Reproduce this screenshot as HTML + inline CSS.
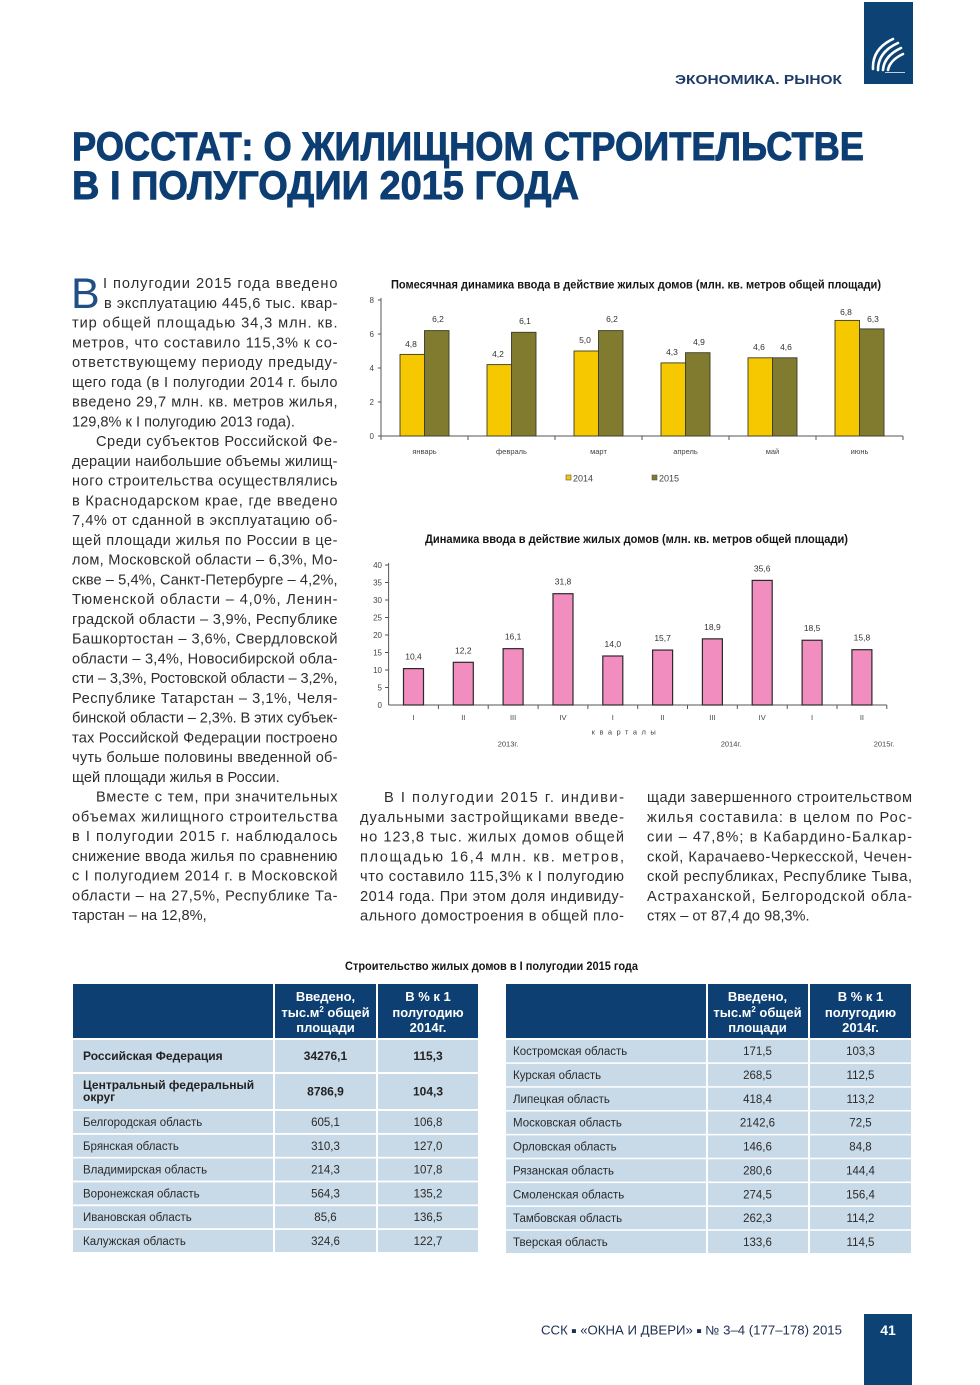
<!DOCTYPE html>
<html lang="ru">
<head>
<meta charset="utf-8">
<style>
  html,body{margin:0;padding:0;background:#fff;}
  svg{display:block;}
  .b{font-family:"Liberation Sans","DejaVu Sans",sans-serif;font-size:14.6px;fill:#2e2e2e;}
  .t{font-family:"Liberation Sans","DejaVu Sans",sans-serif;}
</style>
</head>
<body>
<svg width="980" height="1385" viewBox="0 0 980 1385" xmlns="http://www.w3.org/2000/svg">
  <rect x="0" y="0" width="980" height="1385" fill="#fff"/>

  <!-- top logo block -->
  <rect x="864" y="2" width="49" height="82" fill="#0d4275"/>
  <g fill="none" stroke="#fff" stroke-width="2.6" stroke-linecap="round">
    <path d="M873 69 Q872 49 893 39"/>
    <path d="M878 70 Q878 52 898 43"/>
    <path d="M883 70 Q884 56 901 48"/>
    <path d="M888 70 Q890 60 903 54"/>
  </g>
  <line x1="885" y1="72.5" x2="905" y2="72.5" stroke="#fff" stroke-width="0.8"/>

  <!-- section header -->
  <text class="t" x="675" y="84" font-size="12.5" font-weight="bold" fill="#1d3a66" textLength="167" lengthAdjust="spacingAndGlyphs">ЭКОНОМИКА. РЫНОК</text>

  <!-- main title -->
  <text class="t" x="72" y="160" font-size="40" font-weight="bold" fill="#0d3e73" stroke="#0d3e73" stroke-width="0.9" textLength="792" lengthAdjust="spacingAndGlyphs">РОССТАТ: О ЖИЛИЩНОМ СТРОИТЕЛЬСТВЕ</text>
  <text class="t" x="72" y="199" font-size="40" font-weight="bold" fill="#0d3e73" stroke="#0d3e73" stroke-width="0.9" textLength="507" lengthAdjust="spacingAndGlyphs">В I ПОЛУГОДИИ 2015 ГОДА</text>

  <!-- drop cap -->
  <text class="t" x="71" y="308" font-size="43" fill="#1f4f85">В</text>

  <!-- left column text -->
  <g class="b">
    <text x="103" y="288" textLength="234.5" lengthAdjust="spacing">I полугодии 2015 года введено</text>
    <text x="104" y="307.75" textLength="233.5" lengthAdjust="spacing">в эксплуатацию 445,6 тыс. квар-</text>
    <text x="72" y="327.5" textLength="265.5" lengthAdjust="spacing">тир общей площадью 34,3 млн. кв.</text>
    <text x="72" y="347.25" textLength="265.5" lengthAdjust="spacing">метров, что составило 115,3% к со-</text>
    <text x="72" y="367" textLength="265.5" lengthAdjust="spacing">ответствующему периоду предыду-</text>
    <text x="72" y="386.75" textLength="265.5" lengthAdjust="spacing">щего года (в I полугодии 2014 г. было</text>
    <text x="72" y="406.5" textLength="265.5" lengthAdjust="spacing">введено 29,7 млн. кв. метров жилья,</text>
    <text x="72" y="426.25">129,8% к I полугодию 2013 года).</text>
    <text x="96" y="446" textLength="241.5" lengthAdjust="spacing">Среди субъектов Российской Фе-</text>
    <text x="72" y="465.75" textLength="265.5" lengthAdjust="spacing">дерации наибольшие объемы жилищ-</text>
    <text x="72" y="485.5" textLength="265.5" lengthAdjust="spacing">ного строительства осуществлялись</text>
    <text x="72" y="505.25" textLength="265.5" lengthAdjust="spacing">в Краснодарском крае, где введено</text>
    <text x="72" y="525" textLength="265.5" lengthAdjust="spacing">7,4% от сданной в эксплуатацию об-</text>
    <text x="72" y="544.75" textLength="265.5" lengthAdjust="spacing">щей площади жилья по России в це-</text>
    <text x="72" y="564.5" textLength="265.5" lengthAdjust="spacing">лом, Московской области – 6,3%, Мо-</text>
    <text x="72" y="584.25" textLength="265.5" lengthAdjust="spacing">скве – 5,4%, Санкт-Петербурге – 4,2%,</text>
    <text x="72" y="604" textLength="265.5" lengthAdjust="spacing">Тюменской области – 4,0%, Ленин-</text>
    <text x="72" y="623.75" textLength="265.5" lengthAdjust="spacing">градской области – 3,9%, Республике</text>
    <text x="72" y="643.5" textLength="265.5" lengthAdjust="spacing">Башкортостан – 3,6%, Свердловской</text>
    <text x="72" y="663.25" textLength="265.5" lengthAdjust="spacing">области – 3,4%, Новосибирской обла-</text>
    <text x="72" y="683" textLength="265.5" lengthAdjust="spacing">сти – 3,3%, Ростовской области – 3,2%,</text>
    <text x="72" y="702.75" textLength="265.5" lengthAdjust="spacing">Республике Татарстан – 3,1%, Челя-</text>
    <text x="72" y="722.5" textLength="265.5" lengthAdjust="spacing">бинской области – 2,3%. В этих субъек-</text>
    <text x="72" y="742.25" textLength="265.5" lengthAdjust="spacing">тах Российской Федерации построено</text>
    <text x="72" y="762" textLength="265.5" lengthAdjust="spacing">чуть больше половины введенной об-</text>
    <text x="72" y="781.75">щей площади жилья в России.</text>
    <text x="96" y="801.5" textLength="241.5" lengthAdjust="spacing">Вместе с тем, при значительных</text>
    <text x="72" y="821.25" textLength="265.5" lengthAdjust="spacing">объемах жилищного строительства</text>
    <text x="72" y="841" textLength="265.5" lengthAdjust="spacing">в I полугодии 2015 г. наблюдалось</text>
    <text x="72" y="860.75" textLength="265.5" lengthAdjust="spacing">снижение ввода жилья по сравнению</text>
    <text x="72" y="880.5" textLength="265.5" lengthAdjust="spacing">с I полугодием 2014 г. в Московской</text>
    <text x="72" y="900.25" textLength="265.5" lengthAdjust="spacing">области – на 27,5%, Республике Та-</text>
    <text x="72" y="920">тарстан – на 12,8%,</text>
  </g>

  <!-- middle column text -->
  <g class="b">
    <text x="384" y="802" textLength="240" lengthAdjust="spacing">В I полугодии 2015 г. индиви-</text>
    <text x="360" y="821.75" textLength="264" lengthAdjust="spacing">дуальными застройщиками введе-</text>
    <text x="360" y="841.5" textLength="264" lengthAdjust="spacing">но 123,8 тыс. жилых домов общей</text>
    <text x="360" y="861.25" textLength="264" lengthAdjust="spacing">площадью 16,4 млн. кв. метров,</text>
    <text x="360" y="881" textLength="264" lengthAdjust="spacing">что составило 115,3% к I полугодию</text>
    <text x="360" y="900.75" textLength="264" lengthAdjust="spacing">2014 года. При этом доля индивиду-</text>
    <text x="360" y="920.5" textLength="264" lengthAdjust="spacing">ального домостроения в общей пло-</text>
  </g>

  <!-- right column text -->
  <g class="b">
    <text x="647" y="802" textLength="265" lengthAdjust="spacing">щади завершенного строительством</text>
    <text x="647" y="821.75" textLength="265" lengthAdjust="spacing">жилья составила: в целом по Рос-</text>
    <text x="647" y="841.5" textLength="265" lengthAdjust="spacing">сии – 47,8%; в Кабардино-Балкар-</text>
    <text x="647" y="861.25" textLength="265" lengthAdjust="spacing">ской, Карачаево-Черкесской, Чечен-</text>
    <text x="647" y="881" textLength="265" lengthAdjust="spacing">ской республиках, Республике Тыва,</text>
    <text x="647" y="900.75" textLength="265" lengthAdjust="spacing">Астраханской, Белгородской обла-</text>
    <text x="647" y="920.5">стях – от 87,4 до 98,3%.</text>
  </g>

  <!-- ============ CHART 1 ============ -->
  <text class="t" x="391" y="288.5" font-size="12" font-weight="bold" fill="#151515" textLength="490" lengthAdjust="spacingAndGlyphs">Помесячная динамика ввода в действие жилых домов (млн. кв. метров общей площади)</text>
  <g stroke="#555" stroke-width="1">
    <line x1="381" y1="298" x2="381" y2="436"/>
    <line x1="381" y1="436" x2="903" y2="436"/>
    <line x1="378" y1="300" x2="381" y2="300"/>
    <line x1="378" y1="334" x2="381" y2="334"/>
    <line x1="378" y1="368" x2="381" y2="368"/>
    <line x1="378" y1="402" x2="381" y2="402"/>
    <line x1="378" y1="436" x2="381" y2="436"/>
    <line x1="381" y1="436" x2="381" y2="440"/>
    <line x1="468" y1="436" x2="468" y2="440"/>
    <line x1="555" y1="436" x2="555" y2="440"/>
    <line x1="642" y1="436" x2="642" y2="440"/>
    <line x1="729" y1="436" x2="729" y2="440"/>
    <line x1="816" y1="436" x2="816" y2="440"/>
    <line x1="903" y1="436" x2="903" y2="440"/>
  </g>
  <g class="t" font-size="8" fill="#444" text-anchor="end">
    <text x="374" y="303">8</text>
    <text x="374" y="337">6</text>
    <text x="374" y="371">4</text>
    <text x="374" y="405">2</text>
    <text x="374" y="439">0</text>
  </g>
  <g stroke="#3a3a2a" stroke-width="0.9">
    <rect x="400" y="354.4" width="24.5" height="81.6" fill="#f6c800"/>
    <rect x="424.5" y="330.6" width="24.5" height="105.4" fill="#817b2f"/>
    <rect x="487" y="364.6" width="24.5" height="71.4" fill="#f6c800"/>
    <rect x="511.5" y="332.3" width="24.5" height="103.7" fill="#817b2f"/>
    <rect x="574" y="351" width="24.5" height="85" fill="#f6c800"/>
    <rect x="598.5" y="330.6" width="24.5" height="105.4" fill="#817b2f"/>
    <rect x="661" y="362.9" width="24.5" height="73.1" fill="#f6c800"/>
    <rect x="685.5" y="352.7" width="24.5" height="83.3" fill="#817b2f"/>
    <rect x="748" y="357.8" width="24.5" height="78.2" fill="#f6c800"/>
    <rect x="772.5" y="357.8" width="24.5" height="78.2" fill="#817b2f"/>
    <rect x="835" y="320.4" width="24.5" height="115.6" fill="#f6c800"/>
    <rect x="859.5" y="328.9" width="24.5" height="107.1" fill="#817b2f"/>
  </g>
  <g class="t" font-size="8.5" fill="#333" text-anchor="middle">
    <text x="411" y="347">4,8</text>
    <text x="438" y="322">6,2</text>
    <text x="498" y="357">4,2</text>
    <text x="525" y="324">6,1</text>
    <text x="585" y="343">5,0</text>
    <text x="612" y="322">6,2</text>
    <text x="672" y="355">4,3</text>
    <text x="699" y="345">4,9</text>
    <text x="759" y="350">4,6</text>
    <text x="786" y="350">4,6</text>
    <text x="846" y="315">6,8</text>
    <text x="873" y="322">6,3</text>
  </g>
  <g class="t" font-size="7.5" fill="#444" text-anchor="middle">
    <text x="424.5" y="454">январь</text>
    <text x="511.5" y="454">февраль</text>
    <text x="598.5" y="454">март</text>
    <text x="685.5" y="454">апрель</text>
    <text x="772.5" y="454">май</text>
    <text x="859.5" y="454">июнь</text>
  </g>
  <rect x="566" y="475" width="5" height="5" fill="#f6c800" stroke="#555" stroke-width="0.6"/>
  <text class="t" x="573" y="481.5" font-size="9" fill="#444">2014</text>
  <rect x="652" y="475" width="5" height="5" fill="#817b2f" stroke="#555" stroke-width="0.6"/>
  <text class="t" x="659" y="481.5" font-size="9" fill="#444">2015</text>

  <!-- ============ CHART 2 ============ -->
  <text class="t" x="425" y="543" font-size="12" font-weight="bold" fill="#151515" textLength="423" lengthAdjust="spacingAndGlyphs">Динамика ввода в действие жилых домов (млн. кв. метров общей площади)</text>
  <g stroke="#555" stroke-width="1">
    <line x1="388.6" y1="563" x2="388.6" y2="705"/>
    <line x1="388.6" y1="705" x2="886.8" y2="705"/>
    <line x1="385" y1="565" x2="388.6" y2="565"/>
    <line x1="385" y1="582.5" x2="388.6" y2="582.5"/>
    <line x1="385" y1="600" x2="388.6" y2="600"/>
    <line x1="385" y1="617.5" x2="388.6" y2="617.5"/>
    <line x1="385" y1="635" x2="388.6" y2="635"/>
    <line x1="385" y1="652.5" x2="388.6" y2="652.5"/>
    <line x1="385" y1="670" x2="388.6" y2="670"/>
    <line x1="385" y1="687.5" x2="388.6" y2="687.5"/>
    <line x1="438.4" y1="705" x2="438.4" y2="709"/>
    <line x1="488.2" y1="705" x2="488.2" y2="709"/>
    <line x1="538.1" y1="705" x2="538.1" y2="709"/>
    <line x1="587.9" y1="705" x2="587.9" y2="709"/>
    <line x1="637.7" y1="705" x2="637.7" y2="709"/>
    <line x1="687.5" y1="705" x2="687.5" y2="709"/>
    <line x1="737.3" y1="705" x2="737.3" y2="709"/>
    <line x1="787.2" y1="705" x2="787.2" y2="709"/>
    <line x1="837" y1="705" x2="837" y2="709"/>
    <line x1="886.8" y1="705" x2="886.8" y2="709"/>
  </g>
  <g class="t" font-size="8" fill="#444" text-anchor="end">
    <text x="382" y="568">40</text>
    <text x="382" y="585.5">35</text>
    <text x="382" y="603">30</text>
    <text x="382" y="620.5">25</text>
    <text x="382" y="638">20</text>
    <text x="382" y="655.5">15</text>
    <text x="382" y="673">10</text>
    <text x="382" y="690.5">5</text>
    <text x="382" y="708">0</text>
  </g>
  <g fill="#f28dc0" stroke="#2a2a2a" stroke-width="1.2">
    <rect x="403.5" y="668.6" width="20" height="36.4"/>
    <rect x="453.3" y="662.3" width="20" height="42.7"/>
    <rect x="503.1" y="648.65" width="20" height="56.35"/>
    <rect x="553" y="593.7" width="20" height="111.3"/>
    <rect x="602.8" y="656" width="20" height="49"/>
    <rect x="652.6" y="650.05" width="20" height="54.95"/>
    <rect x="702.4" y="638.85" width="20" height="66.15"/>
    <rect x="752.2" y="580.4" width="20" height="124.6"/>
    <rect x="802.1" y="640.25" width="20" height="64.75"/>
    <rect x="851.9" y="649.7" width="20" height="55.3"/>
  </g>
  <g class="t" font-size="8.5" fill="#333" text-anchor="middle">
    <text x="413.5" y="659.5">10,4</text>
    <text x="463.3" y="653.3">12,2</text>
    <text x="513.1" y="639.6">16,1</text>
    <text x="563" y="584.7">31,8</text>
    <text x="612.8" y="647">14,0</text>
    <text x="662.6" y="641">15,7</text>
    <text x="712.4" y="629.8">18,9</text>
    <text x="762.2" y="571.4">35,6</text>
    <text x="812.1" y="631.2">18,5</text>
    <text x="861.9" y="640.7">15,8</text>
  </g>
  <g class="t" font-size="7.5" fill="#444" text-anchor="middle">
    <text x="413.5" y="720">I</text>
    <text x="463.3" y="720">II</text>
    <text x="513.1" y="720">III</text>
    <text x="563" y="720">IV</text>
    <text x="612.8" y="720">I</text>
    <text x="662.6" y="720">II</text>
    <text x="712.4" y="720">III</text>
    <text x="762.2" y="720">IV</text>
    <text x="812.1" y="720">I</text>
    <text x="861.9" y="720">II</text>
    <text x="626" y="734.5" letter-spacing="4.5">кварталы</text>
    <text x="508" y="746.5">2013г.</text>
    <text x="731" y="746.5">2014г.</text>
    <text x="884" y="746.5">2015г.</text>
  </g>

  <!-- ============ TABLE ============ -->
  <text class="t" x="345" y="970" font-size="11.5" font-weight="bold" fill="#151515" textLength="293" lengthAdjust="spacingAndGlyphs">Строительство жилых домов в I полугодии 2015 года</text>

  <!-- left table -->
  <g fill="#0d3f73">
    <rect x="73" y="984" width="200" height="54"/>
    <rect x="275" y="984" width="101" height="54"/>
    <rect x="378" y="984" width="100" height="54"/>
  </g>
  <g fill="#c8d9e7">
    <rect x="73" y="1040" width="200" height="32"/><rect x="275" y="1040" width="101" height="32"/><rect x="378" y="1040" width="100" height="32"/>
    <rect x="73" y="1074" width="200" height="35"/><rect x="275" y="1074" width="101" height="35"/><rect x="378" y="1074" width="100" height="35"/>
    <rect x="73" y="1111" width="200" height="22"/><rect x="275" y="1111" width="101" height="22"/><rect x="378" y="1111" width="100" height="22"/>
    <rect x="73" y="1134.8" width="200" height="22"/><rect x="275" y="1134.8" width="101" height="22"/><rect x="378" y="1134.8" width="100" height="22"/>
    <rect x="73" y="1158.6" width="200" height="22"/><rect x="275" y="1158.6" width="101" height="22"/><rect x="378" y="1158.6" width="100" height="22"/>
    <rect x="73" y="1182.4" width="200" height="22"/><rect x="275" y="1182.4" width="101" height="22"/><rect x="378" y="1182.4" width="100" height="22"/>
    <rect x="73" y="1206.2" width="200" height="22"/><rect x="275" y="1206.2" width="101" height="22"/><rect x="378" y="1206.2" width="100" height="22"/>
    <rect x="73" y="1230" width="200" height="22"/><rect x="275" y="1230" width="101" height="22"/><rect x="378" y="1230" width="100" height="22"/>
  </g>
  <g class="t" font-size="13" font-weight="bold" fill="#fff" text-anchor="middle">
    <text x="325.5" y="1001">Введено,</text>
    <text x="325.5" y="1017">тыс.м<tspan font-size="8" dy="-5">2</tspan><tspan dy="5"> общей</tspan></text>
    <text x="325.5" y="1032">площади</text>
    <text x="428" y="1001">В % к 1</text>
    <text x="428" y="1017">полугодию</text>
    <text x="428" y="1032">2014г.</text>
  </g>
  <g class="t" font-size="12" font-weight="bold" fill="#222">
    <text x="83" y="1060">Российская Федерация</text>
    <text x="83" y="1089">Центральный федеральный</text>
    <text x="83" y="1101">округ</text>
  </g>
  <g class="t" font-size="12" font-weight="bold" fill="#222" text-anchor="middle">
    <text x="325.5" y="1060">34276,1</text>
    <text x="428" y="1060">115,3</text>
    <text x="325.5" y="1095.5">8786,9</text>
    <text x="428" y="1095.5">104,3</text>
  </g>
  <g class="t" font-size="11.5" fill="#2a2a2a">
    <text x="83" y="1126">Белгородская область</text>
    <text x="83" y="1149.8">Брянская область</text>
    <text x="83" y="1173.6">Владимирская область</text>
    <text x="83" y="1197.4">Воронежская область</text>
    <text x="83" y="1221.2">Ивановская область</text>
    <text x="83" y="1245">Калужская область</text>
  </g>
  <g class="t" font-size="11.5" fill="#2a2a2a" text-anchor="middle">
    <text x="325.5" y="1126">605,1</text><text x="428" y="1126">106,8</text>
    <text x="325.5" y="1149.8">310,3</text><text x="428" y="1149.8">127,0</text>
    <text x="325.5" y="1173.6">214,3</text><text x="428" y="1173.6">107,8</text>
    <text x="325.5" y="1197.4">564,3</text><text x="428" y="1197.4">135,2</text>
    <text x="325.5" y="1221.2">85,6</text><text x="428" y="1221.2">136,5</text>
    <text x="325.5" y="1245">324,6</text><text x="428" y="1245">122,7</text>
  </g>

  <!-- right table -->
  <g fill="#0d3f73">
    <rect x="506" y="984" width="200" height="54"/>
    <rect x="708" y="984" width="100" height="54"/>
    <rect x="810" y="984" width="101" height="54"/>
  </g>
  <g fill="#c8d9e7">
    <rect x="506" y="1040" width="200" height="22.3"/><rect x="708" y="1040" width="100" height="22.3"/><rect x="810" y="1040" width="101" height="22.3"/>
    <rect x="506" y="1063.85" width="200" height="22.3"/><rect x="708" y="1063.85" width="100" height="22.3"/><rect x="810" y="1063.85" width="101" height="22.3"/>
    <rect x="506" y="1087.7" width="200" height="22.3"/><rect x="708" y="1087.7" width="100" height="22.3"/><rect x="810" y="1087.7" width="101" height="22.3"/>
    <rect x="506" y="1111.55" width="200" height="22.3"/><rect x="708" y="1111.55" width="100" height="22.3"/><rect x="810" y="1111.55" width="101" height="22.3"/>
    <rect x="506" y="1135.4" width="200" height="22.3"/><rect x="708" y="1135.4" width="100" height="22.3"/><rect x="810" y="1135.4" width="101" height="22.3"/>
    <rect x="506" y="1159.25" width="200" height="22.3"/><rect x="708" y="1159.25" width="100" height="22.3"/><rect x="810" y="1159.25" width="101" height="22.3"/>
    <rect x="506" y="1183.1" width="200" height="22.3"/><rect x="708" y="1183.1" width="100" height="22.3"/><rect x="810" y="1183.1" width="101" height="22.3"/>
    <rect x="506" y="1206.95" width="200" height="22.3"/><rect x="708" y="1206.95" width="100" height="22.3"/><rect x="810" y="1206.95" width="101" height="22.3"/>
    <rect x="506" y="1230.8" width="200" height="22.3"/><rect x="708" y="1230.8" width="100" height="22.3"/><rect x="810" y="1230.8" width="101" height="22.3"/>
  </g>
  <g class="t" font-size="13" font-weight="bold" fill="#fff" text-anchor="middle">
    <text x="757.5" y="1001">Введено,</text>
    <text x="757.5" y="1017">тыс.м<tspan font-size="8" dy="-5">2</tspan><tspan dy="5"> общей</tspan></text>
    <text x="757.5" y="1032">площади</text>
    <text x="860.5" y="1001">В % к 1</text>
    <text x="860.5" y="1017">полугодию</text>
    <text x="860.5" y="1032">2014г.</text>
  </g>
  <g class="t" font-size="11.5" fill="#2a2a2a">
    <text x="513" y="1055.2">Костромская область</text>
    <text x="513" y="1079">Курская область</text>
    <text x="513" y="1102.9">Липецкая область</text>
    <text x="513" y="1126.7">Московская область</text>
    <text x="513" y="1150.6">Орловская область</text>
    <text x="513" y="1174.4">Рязанская область</text>
    <text x="513" y="1198.3">Смоленская область</text>
    <text x="513" y="1222.1">Тамбовская область</text>
    <text x="513" y="1246">Тверская область</text>
  </g>
  <g class="t" font-size="11.5" fill="#2a2a2a" text-anchor="middle">
    <text x="757.5" y="1055.2">171,5</text><text x="860.5" y="1055.2">103,3</text>
    <text x="757.5" y="1079">268,5</text><text x="860.5" y="1079">112,5</text>
    <text x="757.5" y="1102.9">418,4</text><text x="860.5" y="1102.9">113,2</text>
    <text x="757.5" y="1126.7">2142,6</text><text x="860.5" y="1126.7">72,5</text>
    <text x="757.5" y="1150.6">146,6</text><text x="860.5" y="1150.6">84,8</text>
    <text x="757.5" y="1174.4">280,6</text><text x="860.5" y="1174.4">144,4</text>
    <text x="757.5" y="1198.3">274,5</text><text x="860.5" y="1198.3">156,4</text>
    <text x="757.5" y="1222.1">262,3</text><text x="860.5" y="1222.1">114,2</text>
    <text x="757.5" y="1246">133,6</text><text x="860.5" y="1246">114,5</text>
  </g>

  <!-- footer -->
  <text class="t" x="541" y="1334.5" font-size="12.5" fill="#1f2f52" textLength="301" lengthAdjust="spacingAndGlyphs">ССК <tspan font-size="8" dy="-1">■</tspan><tspan dy="1"> «ОКНА И ДВЕРИ» </tspan><tspan font-size="8" dy="-1">■</tspan><tspan dy="1"> № 3–4 (177–178) 2015</tspan></text>
  <rect x="864" y="1314" width="48" height="71" fill="#0d4275"/>
  <text class="t" x="888" y="1335" font-size="14" font-weight="bold" fill="#fff" text-anchor="middle">41</text>
</svg>
</body>
</html>
